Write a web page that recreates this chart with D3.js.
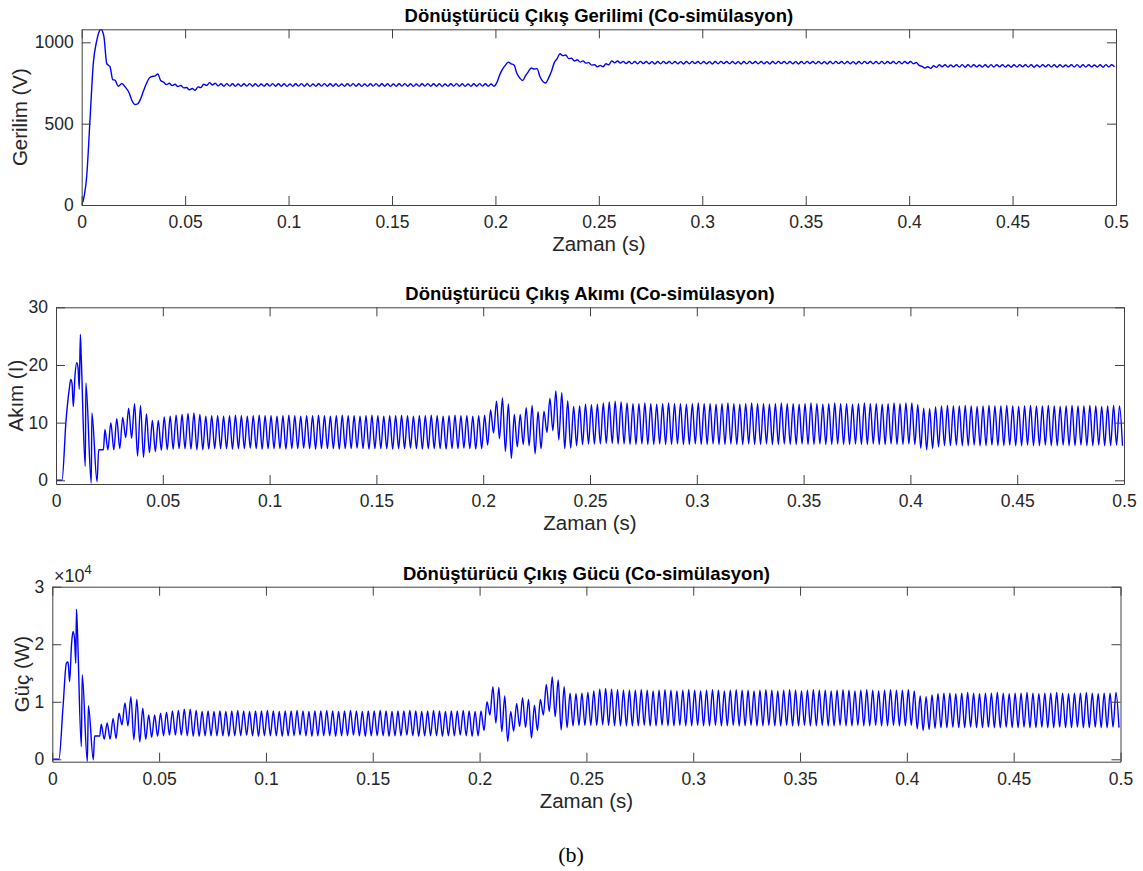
<!DOCTYPE html>
<html>
<head>
<meta charset="utf-8">
<script src="https://cdn.jsdelivr.net/npm/d3@7"></script>
<style>
  body { margin: 0; background: #fff; }
  text { font-family: "Liberation Sans", Arial, Helvetica, sans-serif; fill: #262626; }
</style>
</head>
<body>
<div id="chart"></div>
<script>
// shared time axis
const xTicks = [0, 0.05, 0.1, 0.15, 0.2, 0.25, 0.3, 0.35, 0.4, 0.45, 0.5]
const xLabel = 'Zaman (s)'

// ripple cycles (6-pulse, 360 Hz) after the start-up transient
const cycleStart = 0.0229
const cyclePeriod = 1 / 360

// --- voltage (V) ---
const voltHead = [[0,0],[0.0012,55],[0.0024,174],[0.004,521],[0.0056,869],[0.0073,1012],[0.0085,1068],
  [0.0093,1080],[0.0100,1070],[0.0108,1030],[0.0121,869],[0.0130,858],[0.0137,849],[0.015,771],
  [0.0161,767],[0.0177,730],[0.0194,747],[0.0210,726]]
const voltPeaks = [
  690,618,652,745,790,805,755,748,742,735,
  722,716,726,742,752,748,745,746,745,744,
  745,746,745,744,745,746,745,745,744,745,
  746,745,744,745,746,745,745,744,745,746,
  745,744,745,746,745,745,744,745,746,745,
  744,745,746,745,745,744,745,746,745,744,
  745,746,745,744,752,835,878,860,780,795,
  842,838,760,780,875,930,922,902,893,886,
  875,862,858,868,886,885,883,882,882,883,
  882,881,882,883,882,882,881,882,883,882,
  882,881,882,883,882,882,881,882,883,882,
  882,881,882,883,882,882,881,882,883,882,
  882,881,882,883,882,882,881,882,883,882,
  882,883,882,882,883,882,882,876,852,850,
  856,862,862,861,862,863,862,862,861,862,
  863,862,862,861,862,863,862,862,861,862,
  863,862,862,861,862,863,862,862,861,862,
  863,862]
const voltTroughs = [
  642,622,700,780,792,765,740,734,728,720,
  708,705,722,735,738,732,730,731,730,730,
  731,730,729,730,731,730,730,729,730,731,
  730,729,730,731,730,730,729,730,731,730,
  729,730,731,730,730,729,730,731,730,729,
  730,731,730,730,729,730,731,730,729,730,
  730,731,730,730,800,860,868,808,765,820,
  836,790,750,820,900,918,900,885,878,872,
  860,850,850,862,874,872,869,868,868,869,
  868,867,868,869,868,868,867,868,869,868,
  868,867,868,869,868,868,867,868,869,868,
  868,867,868,869,868,868,867,868,869,868,
  868,867,868,869,868,868,867,868,869,868,
  868,868,869,868,868,869,868,858,842,840,
  846,850,848,849,848,847,848,849,848,847,
  848,849,848,847,848,849,848,847,848,849,
  848,847,848,849,848,847,848,849,848,847,
  848,849]

// --- current (A) ---
const currHead = [[0,0],[0.0028,0],[0.0047,10.4],[0.0062,15.8],[0.0069,17.5],[0.0075,16.8],[0.0081,12.8],
  [0.0089,18.2],[0.0097,20.4],[0.0103,19.6],[0.0109,15.8],[0.0114,25.3],[0.0118,21.5],[0.0137,2.4],
  [0.0140,16.9],[0.0165,-0.5],[0.0168,11.7],[0.0192,-0.2],[0.0200,5.3],[0.0222,5.3]]
const currPeaks = [
  8.8,10.0,10.7,10.9,12.5,13.3,13.0,11.5,10.4,10.4,
  11.0,11.1,11.3,11.4,11.6,11.7,11.4,11.1,11.2,11.2,
  11.1,11.2,11.3,11.2,11.1,11.2,11.3,11.2,11.2,11.1,
  11.2,11.3,11.2,11.1,11.2,11.2,11.3,11.2,11.1,11.2,
  11.3,11.2,11.2,11.1,11.2,11.3,11.2,11.1,11.2,11.2,
  11.3,11.2,11.1,11.2,11.2,11.3,11.2,11.1,11.2,11.3,
  11.2,11.2,11.1,11.2,11.3,12.2,13.7,14.3,13.3,11.4,
  11.4,12.6,13.0,11.9,12.0,14.2,15.5,15.2,13.8,12.8,
  12.9,13.2,13.1,13.2,13.4,13.6,13.7,13.6,13.4,13.3,
  13.3,13.4,13.3,13.2,13.3,13.4,13.3,13.3,13.2,13.3,
  13.4,13.3,13.3,13.2,13.3,13.4,13.3,13.2,13.3,13.4,
  13.3,13.3,13.2,13.3,13.4,13.3,13.3,13.2,13.3,13.4,
  13.3,13.2,13.3,13.4,13.3,13.3,13.2,13.3,13.4,13.3,
  13.3,13.2,13.3,13.4,13.3,13.4,13.4,13.1,12.5,12.4,
  12.7,12.9,13.0,12.9,12.9,13.0,12.9,12.8,12.9,13.0,
  12.9,12.9,13.0,12.9,12.8,12.9,13.0,12.9,12.9,13.0,
  12.9,12.8,12.9,13.0,12.9,12.9,13.0,12.9,12.8,12.9,
  13.0,12.9]
const currTroughs = [
  5.3,5.3,5.5,7.4,7.3,4.2,4.0,4.8,5.0,5.2,
  5.3,5.4,5.5,5.5,5.4,5.3,5.3,5.4,5.5,5.5,
  5.5,5.4,5.5,5.5,5.6,5.5,5.4,5.5,5.5,5.5,
  5.4,5.5,5.5,5.6,5.5,5.4,5.5,5.5,5.5,5.4,
  5.5,5.5,5.6,5.5,5.4,5.5,5.5,5.5,5.4,5.5,
  5.5,5.6,5.5,5.4,5.5,5.5,5.5,5.4,5.5,5.5,
  5.6,5.5,5.4,5.5,6.1,8.2,7.2,5.0,3.8,5.8,
  6.2,6.0,4.6,5.5,8.3,8.6,7.0,5.5,5.6,6.0,
  6.2,6.3,6.3,6.3,6.4,6.4,6.3,6.3,6.2,6.2,
  6.3,6.2,6.2,6.3,6.2,6.2,6.3,6.2,6.2,6.3,
  6.2,6.2,6.3,6.2,6.2,6.3,6.2,6.2,6.3,6.2,
  6.2,6.3,6.2,6.2,6.3,6.2,6.2,6.3,6.2,6.2,
  6.3,6.2,6.2,6.3,6.2,6.2,6.3,6.2,6.2,6.3,
  6.2,6.2,6.3,6.2,6.2,6.3,6.2,5.6,5.3,5.5,
  5.8,6.0,6.0,6.1,6.0,6.0,6.1,6.0,6.0,6.1,
  6.0,6.0,6.1,6.0,6.0,6.1,6.0,6.0,6.1,6.0,
  6.0,6.1,6.0,6.0,6.1,6.0,6.0,6.1,6.0,6.0,
  6.1,6.0]

// --- power (W) ---
const powHead = [[0,0],[0.0031,0],[0.0050,9000],[0.0066,16700],[0.0074,16900],[0.0081,13500],[0.0090,20000],
  [0.0097,22200],[0.0104,21000],[0.0110,16700],[0.0113,26100],[0.0117,23000],[0.0136,2200],[0.0140,14700],
  [0.0164,-400],[0.0169,9300],[0.0192,-100],[0.0198,4050],[0.0222,4050]]
const powPeaks = [
  6100,6300,7100,8000,9800,10900,10400,8900,7700,7700,
  8000,8200,8400,8500,8700,8700,8500,8300,8400,8300,
  8400,8300,8400,8500,8400,8300,8400,8400,8500,8400,
  8300,8400,8400,8500,8400,8300,8400,8400,8500,8400,
  8300,8400,8500,8400,8300,8400,8400,8500,8400,8300,
  8400,8400,8500,8400,8300,8400,8500,8400,8300,8400,
  8400,8500,8400,8300,8400,10000,12600,12500,11000,8300,
  9700,10700,10400,9400,10400,13000,14300,13800,12600,11500,
  11400,11500,11600,11900,12200,12300,12200,12100,12000,12000,
  12000,12100,12000,11900,12000,12100,12000,11900,12000,12100,
  12000,11900,12000,12100,12000,11900,12000,12100,12000,12000,
  11900,12000,12100,12000,11900,12000,12100,12000,11900,12000,
  12100,12000,12000,11900,12000,12100,12000,11900,12000,12100,
  12000,11900,12000,12100,12000,12000,12100,11900,11000,10900,
  11200,11400,11500,11500,11400,11500,11600,11500,11400,11500,
  11500,11600,11500,11400,11500,11500,11600,11500,11400,11500,
  11500,11600,11500,11400,11500,11500,11600,11500,11400,11500,
  11500,11600]
const powTroughs = [
  3500,3500,3600,6000,5800,3400,3000,3500,3800,4000,
  4100,4200,4200,4200,4100,4000,4000,4100,4100,4100,
  4100,4000,4100,4100,4200,4100,4000,4100,4100,4100,
  4000,4100,4100,4200,4100,4000,4100,4100,4100,4000,
  4100,4100,4200,4100,4000,4100,4100,4100,4000,4100,
  4100,4200,4100,4000,4100,4100,4100,4000,4100,4100,
  4200,4100,4000,4100,5000,7700,6300,4800,3100,4900,
  5700,5500,3700,5000,7700,8300,7400,5100,5500,5800,
  5900,5900,5900,5900,6000,5900,5800,5800,5800,5800,
  5800,5900,5800,5800,5900,5800,5800,5900,5800,5800,
  5900,5800,5800,5900,5800,5800,5900,5800,5800,5900,
  5800,5800,5900,5800,5800,5900,5800,5800,5900,5800,
  5800,5900,5800,5800,5900,5800,5800,5900,5800,5800,
  5900,5800,5800,5900,5800,5800,5900,5300,5000,5200,
  5400,5500,5500,5600,5500,5500,5600,5500,5500,5600,
  5500,5500,5600,5500,5500,5600,5500,5500,5600,5500,
  5500,5600,5500,5500,5600,5500,5500,5600,5500,5500,
  5600,5500]

const titles = ['Dönüştürücü Çıkış Gerilimi (Co-simülasyon)',
                'Dönüştürücü Çıkış Akımı (Co-simülasyon)',
                'Dönüştürücü Çıkış Gücü (Co-simülasyon)']
const yLabels = ['Gerilim (V)', 'Akım (I)', 'Güç (W)']
const yTicks = [[0, 500, 1000], [0, 10, 20, 30], [0, 10000, 20000, 30000]]
const yLimits = [[0, 1080], [-0.64, 30], [-420, 30000]]

function buildSeries(head, peaks, troughs) {
    let pts = head.map(d => ({t: d[0], v: d[1]}))
    peaks.forEach((p, k) => {
        let t = cycleStart + k * cyclePeriod
        pts.push({t: t, v: p})
        pts.push({t: t + cyclePeriod / 2, v: troughs[k]})
    })
    return pts
}

const series = [
    buildSeries(voltHead, voltPeaks, voltTroughs),
    buildSeries(currHead, currPeaks, currTroughs),
    buildSeries(powHead, powPeaks, powTroughs)
]

// panel boxes [left, right, top, bottom] and label spots
const panels = [
    {l: 81.7, r: 1116, t: 29.3, b: 205, ylabX: 27, fmt: d => d},
    {l: 56, r: 1124, t: 307.3, b: 484, ylabX: 22.5, fmt: d => d},
    {l: 52.3, r: 1120.5, t: 586.7, b: 761.7, ylabX: 28.5, fmt: d => d / 10000}
]

let svg = d3.select('#chart').append('svg')
    .attr('width', 1143).attr('height', 871)

const axisColor = '#404040'
const tickLen = 9

panels.forEach((p, i) => {
    let x = d3.scaleLinear().domain([0, 0.5]).range([p.l, p.r])
    let y = d3.scaleLinear().domain(yLimits[i]).range([p.b, p.t])

    let g = svg.append('g')

    g.append('clipPath').attr('id', 'clip' + i)
        .append('rect').attr('x', p.l).attr('y', p.t)
        .attr('width', p.r - p.l).attr('height', p.b - p.t)

    let line = d3.line().x(d => x(d.t)).y(d => y(d.v)).curve(d3.curveMonotoneX)
    g.append('path')
        .datum(series[i])
        .attr('clip-path', 'url(#clip' + i + ')')
        .attr('d', line)
        .attr('fill', 'none')
        .attr('stroke', '#0000ff')
        .attr('stroke-width', 1.4)

    let fmtX = d3.format('~g')
    let axes = [
        g.append('g').attr('transform', `translate(0,${p.b})`)
            .call(d3.axisBottom(x).tickValues(xTicks).tickFormat(fmtX)
                .tickSizeInner(-tickLen).tickSizeOuter(0).tickPadding(11)),
        g.append('g').attr('transform', `translate(0,${p.t})`)
            .call(d3.axisTop(x).tickValues(xTicks).tickFormat('')
                .tickSizeInner(-tickLen).tickSizeOuter(0)),
        g.append('g').attr('transform', `translate(${p.l},0)`)
            .call(d3.axisLeft(y).tickValues(yTicks[i]).tickFormat(p.fmt)
                .tickSizeInner(-tickLen).tickSizeOuter(0).tickPadding(8)),
        g.append('g').attr('transform', `translate(${p.r},0)`)
            .call(d3.axisRight(y).tickValues(yTicks[i]).tickFormat('')
                .tickSizeInner(-tickLen).tickSizeOuter(0))
    ]
    axes.forEach(a => {
        a.select('.domain').attr('stroke', axisColor)
        a.selectAll('.tick line').attr('stroke', axisColor)
        a.selectAll('.tick text').attr('fill', '#262626')
            .style('font-size', '17.5px')
            .style('font-family', '"Liberation Sans", Arial, sans-serif')
    })

    // title
    g.append('text')
        .attr('x', (p.l + p.r) / 2).attr('y', p.t - 7)
        .attr('text-anchor', 'middle')
        .style('font-size', '18.5px').style('font-weight', 'bold')
        .style('fill', '#000')
        .text(titles[i])

    // x label
    g.append('text')
        .attr('x', (p.l + p.r) / 2).attr('y', p.b + 46)
        .attr('text-anchor', 'middle')
        .style('font-size', '20.5px')
        .text(xLabel)

    // y label
    g.append('text')
        .attr('transform', `translate(${p.ylabX},${(p.t + p.b) / 2}) rotate(-90)`)
        .attr('text-anchor', 'middle')
        .style('font-size', '20.5px')
        .text(yLabels[i])
})

// exponent marker of the power panel
let ex = svg.append('text')
    .attr('x', 54).attr('y', 582)
    .style('font-size', '18px')
ex.append('tspan').text('×10')
ex.append('tspan').attr('dy', -8).style('font-size', '13px').text('4')

// figure caption
svg.append('text')
    .attr('x', 571).attr('y', 862)
    .attr('text-anchor', 'middle')
    .style('font-family', '"Liberation Serif", "Times New Roman", serif')
    .style('font-size', '22px')
    .style('fill', '#000')
    .text('(b)')
</script>
</body>
</html>
